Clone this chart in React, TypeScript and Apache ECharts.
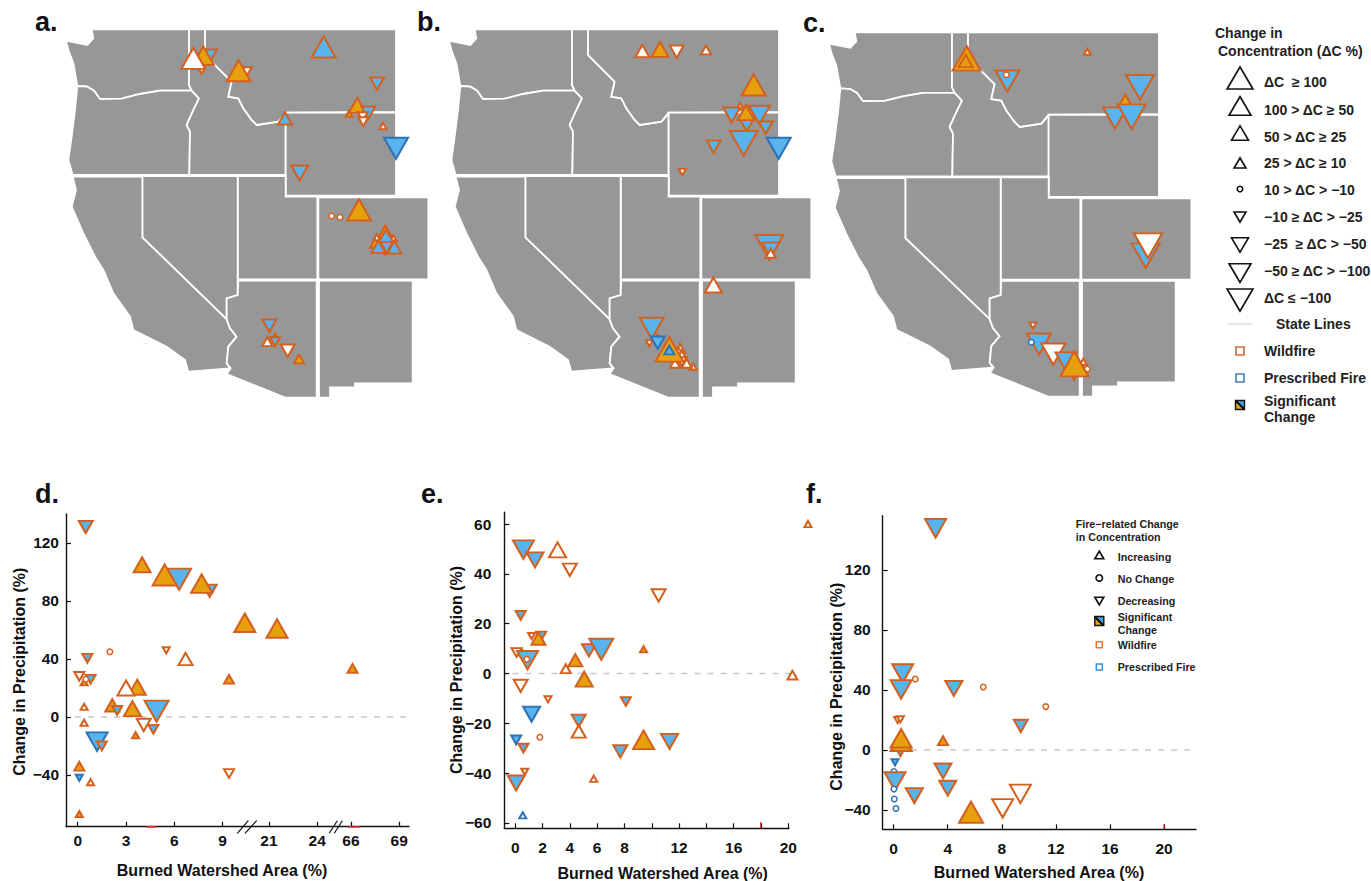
import React, { useEffect, useRef } from "react";
import * as echarts from "echarts";

// ---------- state outlines (map units) ----------
const stateWA = [[275,88],[567,88],[567,255],[575,272],[480,272],[420,282],[365,296],[300,297],[282,272],[262,260],[232,258],[220,190],[205,150],[198,122],[262,135],[280,115]];
const stateOR = [[232,258],[262,260],[282,272],[300,297],[365,296],[420,282],[480,272],[575,272],[597,295],[578,335],[560,375],[570,395],[568,525],[218,525],[205,480],[215,410],[225,330]];
const stateID = [[567,88],[615,88],[615,165],[640,190],[685,235],[695,245],[685,290],[715,295],[730,325],[755,360],[770,375],[835,365],[857,340],[857,525],[568,525],[570,395],[560,375],[578,335],[597,295],[575,272],[567,255]];
const stateMT = [[615,88],[1188,88],[1188,336],[857,338],[835,365],[770,375],[755,360],[730,325],[715,295],[685,290],[695,245],[685,235],[640,190],[615,165]];
const stateWY = [[857,338],[1188,338],[1188,587],[857,587]];
const stateCO = [[955,592],[1285,592],[1285,838],[955,838]];
const stateUT = [[713,528],[857,528],[857,590],[952,590],[952,838],[713,838]];
const stateNV = [[427,528],[713,528],[713,885],[680,895],[680,958],[427,712]];
const stateCA = [[218,530],[427,530],[427,712],[680,958],[690,985],[710,1010],[685,1040],[680,1090],[690,1105],[565,1115],[555,1080],[500,1040],[400,990],[390,950],[340,880],[310,810],[285,770],[250,700],[215,620],[228,570]];
const stateAZ = [[715,842],[950,842],[950,1193],[855,1193],[680,1122],[692,1105],[680,1090],[685,1040],[710,1010],[690,985],[680,958],[680,895],[713,885]];
const stateNM = [[957,842],[1238,842],[1238,1150],[1065,1150],[1065,1162],[990,1162],[990,1193],[957,1193]];
const islands = [[[403,1022],[425,1028],[455,1025],[440,1033],[410,1030]],[[446,1073],[452,1073],[452,1078]],[[495,1062],[506,1068],[503,1073]],[[495,1090],[503,1100],[498,1103]]];
const stateList = [stateWA, stateOR, stateID, stateMT, stateWY, stateCO, stateUT, stateNV, stateCA, stateAZ, stateNM, ...islands];

// ---------- marks: x, y, direction, size class, fill (w/o/b), fire (W/P) ----------
type Row = [number, number, string, number, string, string?];

const mapA: Row[] = [
  [971,141,"u",6,"b"],[1131,251,"d",3,"b"],[1072,316,"u",4,"o"],[1047,341,"u",1,"o"],[1105,338,"d",3,"b"],[1088,350,"d",2,"w"],[1090,365,"d",2,"w"],[1149,378,"u",1,"w"],
  [855,355,"u",3,"b"],[1188,445,"d",6,"b","P"],[899,519,"d",4,"b"],
  [605,212,"d",1,"w"],[630,167,"d",3,"b"],[610,167,"u",5,"o"],[580,175,"u",6,"w"],
  [740,215,"d",2,"w"],[716,212,"u",6,"o"],
  [995,648,"c",1,"w"],[1020,652,"c",1,"w"],[1077,630,"u",6,"o"],
  [1156,695,"u",3,"o"],[1130,712,"u",1,"w"],[1180,715,"u",1,"w"],[1125,730,"u",2,"o"],[1155,755,"d",1,"o"],[1135,740,"u",3,"b"],[1183,742,"u",3,"b"],[1160,740,"d",3,"b"],[1158,708,"u",3,"b"],
  [808,977,"d",3,"b"],[802,1025,"u",2,"w"],[825,1010,"u",1,"o"],[825,1025,"d",2,"b"],[863,1052,"d",3,"w"],[897,1077,"u",2,"o"],
];
const mapB: Row[] = [
  [637,153,"u",3,"w"],[690,148,"u",4,"o"],[740,155,"d",3,"w"],[828,150,"u",2,"w"],[971,255,"u",6,"o"],
  [930,318,"u",1,"w"],[905,345,"d",4,"b"],[988,345,"d",5,"b"],[950,375,"d",3,"b"],[1007,383,"d",3,"b"],[948,338,"u",4,"o"],[941,430,"d",7,"b"],[1046,445,"d",6,"b","P"],[851,440,"d",3,"b"],[757,516,"d",1,"w"],
  [1018,742,"d",7,"b"],[1022,750,"d",4,"b"],[1022,760,"u",2,"w"],[850,855,"u",4,"w"],
  [665,985,"d",6,"b"],[658,1030,"d",1,"w"],[683,1012,"u",1,"w"],[683,1028,"d",3,"b","P"],
  [750,1045,"u",2,"w"],[745,1055,"u",2,"w"],[755,1065,"u",2,"w"],[790,1100,"u",1,"w"],[735,1090,"u",2,"w"],[755,1085,"d",2,"w"],[770,1090,"u",2,"w"],
  [718,1048,"u",7,"o"],[718,1050,"u",2,"b","P"],
];
const mapC: Row[] = [
  [500,175,"u",7,"o"],[497,183,"u",3,"o"],[622,243,"d",6,"b"],[619,224,"c",1,"w"],[862,155,"u",1,"w"],
  [1020,262,"d",7,"b"],[976,302,"u",3,"o"],[945,354,"d",6,"b"],[995,350,"d",7,"b"],
  [1037,767,"d",7,"b"],[1044,737,"d",7,"w"],
  [699,977,"d",1,"w"],[717,1032,"d",6,"b"],[694,1027,"c",1,"w","P"],[760,1062,"d",6,"w"],[798,1085,"d",5,"b"],[862,1107,"c",1,"w"],[850,1085,"u",1,"w"],[822,1130,"d",1,"o"],[823,1092,"u",7,"o"],
];
const scatterD: Row[] = [
  [0.5,131,"d",3,"b"],[4,105,"u",4,"o"],[6.3,95,"d",6,"b"],[5.4,98,"u",6,"o"],[8.2,87,"d",3,"b"],[7.7,92,"u",5,"o"],[19.5,65,"u",5,"o"],[21.5,61,"u",5,"o"],
  [2,45,"c",1,"w"],[5.5,46,"d",1,"w"],[0.6,40.5,"d",2,"b"],[6.7,40,"u",3,"w"],[66.1,33.5,"u",2,"o"],[0.1,28,"d",2,"w"],[0.8,26,"d",2,"b"],[0.4,24,"u",1,"o"],[0.5,26,"c",1,"w"],[9.4,26,"u",2,"o"],
  [3.7,20.5,"u",4,"o"],[3,20,"u",4,"w"],[2.15,8,"u",3,"o"],[2.45,4.5,"d",2,"b"],[3.4,5.7,"u",4,"o"],[4.1,-5.5,"d",3,"w"],[4.7,-8.5,"d",2,"b"],[4.9,4,"d",6,"b"],
  [0.4,7,"u",1,"w"],[0.4,-4,"u",1,"w"],[3.6,-12.6,"u",1,"o"],[1.2,-17,"d",5,"b","P"],[1.5,-20,"d",2,"b"],[9.4,-39,"d",2,"w"],[0.1,-34,"u",2,"o"],[0.1,-42,"d",1,"b","P"],[0.8,-45,"u",1,"w"],[0.1,-67,"u",1,"o"],
];
const scatterE: Row[] = [
  [0.6,49.7,"d",5,"b"],[1.45,45.6,"d",4,"b"],[3.1,49.6,"u",4,"w"],[4,41.6,"d",3,"w"],[10.5,31.3,"d",3,"w"],[0.4,23.3,"d",2,"b"],[1.2,15,"d",1,"w"],[1.9,15,"d",2,"b"],[1.7,14,"u",3,"o"],
  [0.1,8.4,"d",2,"w"],[0.5,8.4,"u",1,"o"],[0.9,5.3,"d",5,"b"],[0.85,5.7,"c",1,"w"],[5.4,9.3,"d",3,"b"],[6.3,9.7,"d",6,"b"],[9.4,9.7,"u",1,"o"],[3.7,1.9,"u",2,"w"],[4.4,5.3,"u",3,"o"],[5.05,-2.3,"u",4,"o"],
  [0.4,-5,"d",3,"w"],[20.3,-0.7,"u",2,"w"],[21.44,60,"u",1,"w"],[2.4,-10.4,"d",1,"w"],[8.1,-11.3,"d",2,"b"],[1.2,-16.4,"d",4,"b","P"],[4.65,-19,"d",3,"b"],[4.65,-23.3,"u",3,"w"],[1.8,-25.6,"c",1,"w"],
  [0.07,-26.7,"d",2,"b","P"],[0.6,-30,"d",2,"b"],[9.4,-26.7,"u",5,"o"],[11.3,-27.3,"d",4,"b"],[7.7,-31.3,"d",3,"b"],[0.7,-39.5,"d",1,"w"],[0.07,-44,"d",4,"b"],[5.75,-42.3,"u",1,"w"],[0.55,-57,"u",1,"w","P"],
];
const scatterF: Row[] = [
  [3.1,147.8,"d",5,"b"],[0.67,51,"d",5,"b"],[1.6,47.3,"c",1,"w"],[0.55,40.4,"d",5,"b"],[4.45,41,"d",4,"b"],[6.63,42,"c",1,"w"],[11.25,28.9,"c",1,"w"],[9.4,16,"d",3,"b"],
  [0.3,20,"d",1,"w"],[0.5,20.4,"d",1,"w"],[0.5,0,"d",3,"b"],[0.55,5.5,"u",5,"o"],[0.55,7.8,"u",5,"o"],[3.65,6.2,"u",2,"o"],[0.1,-8.2,"d",1,"b","P"],[0.02,-14.4,"c",1,"w","P"],
  [3.65,-14,"d",4,"b"],[0.1,-21,"d",5,"b"],[0.02,-26,"c",1,"w","P"],[0.05,-32.7,"c",1,"w","P"],[0.17,-39,"c",1,"w","P"],[1.53,-30.4,"d",4,"b"],[4,-25.5,"d",4,"b"],[5.72,-41.5,"u",6,"o"],[8.06,-38.9,"d",5,"w"],[9.37,-29.3,"d",5,"w"],
];

// ---------- tick labels ----------
const ticksDY = [-40, 0, 40, 80, 120];
const ticksEY = [-60, -40, -20, 0, 20, 40, 60];
const ticksFY = [-40, 0, 40, 80, 120];
const ticksDX = [0, 3, 6, 9, 21, 24, 66, 69];
const ticksEXMinor = [0, 2, 4, 6, 8, 10, 12, 14, 16, 18, 20];
const ticksEX = [0, 2, 4, 6, 8, 12, 16, 20];
const ticksFX = [0, 4, 8, 12, 16, 20];
const legendClasses = ["ΔC  ≥ 100", "100 > ΔC ≥ 50", "50 > ΔC ≥ 25", "25 > ΔC ≥ 10", "10 > ΔC > −10", "−10 ≥ ΔC > −25", "−25  ≥ ΔC > −50", "−50 ≥ ΔC > −100", "ΔC ≤ −100"];
const inset = ["Increasing", "No Change", "Decreasing", "Wildfire", "Prescribed Fire"];

// ---------- styles ----------
const FILL: Record<string, string> = { w: "#ffffff", o: "#e6a00e", b: "#57b4ec" };
const WILD = "#d4601f";
const PRES = "#2f72b5";
const SIZES = [0, 7, 10, 14, 17, 21, 24, 28];
const FONT = '"Liberation Sans", Arial, sans-serif';

// broken x axis of panel d
function brokenX(x: number) {
  if (x <= 9.5) return x;
  if (x <= 40) return x - 21 + 11.88;
  return x - 66 + 16.97;
}
function brokenLabel(u: number) {
  const i = ticksDX.findIndex((t) => Math.abs(brokenX(t) - u) < 0.01);
  return i >= 0 ? String(ticksDX[i]) : "";
}

function mark(r: Row, conv: (x: number) => number = (x) => x) {
  const [x, y, dir, cls, fill, fire] = r;
  const w = SIZES[cls];
  return {
    value: [conv(x), y],
    symbol: dir === "c" ? "circle" : "triangle",
    symbolSize: dir === "c" ? 5.5 : [w, w * 0.88],
    symbolRotate: dir === "d" ? 180 : 0,
    itemStyle: { opacity: 1, color: FILL[fill], borderColor: fire === "P" ? PRES : WILD, borderWidth: dir === "c" ? 1.5 : 2 },
  };
}
function markSeries(rows: Row[], axis: number, conv?: (x: number) => number) {
  return {
    type: "scatter", xAxisIndex: axis, yAxisIndex: axis, clip: false, z: 5, silent: true,
    data: rows.map((r) => mark(r, conv)),
  };
}
function mapSeries(axis: number) {
  return {
    type: "custom", xAxisIndex: axis, yAxisIndex: axis, clip: false, z: 1, silent: true,
    data: stateList.map((_, i) => [i]),
    renderItem: (params: any, api: any) => ({
      type: "polygon",
      shape: { points: stateList[params.dataIndex].map((p) => api.coord(p)) },
      style: { fill: "#979797", stroke: "#ffffff", lineWidth: 1.8 },
    }),
  };
}
function zeroLine(axis: number, x0: number, x1: number) {
  return {
    type: "line", xAxisIndex: axis, yAxisIndex: axis, symbol: "none", clip: false, z: 2, silent: true,
    data: [[x0, 0], [x1, 0]],
    lineStyle: { color: "#c8c8c8", width: 1.5, type: [6, 7] },
  };
}
const hiddenAxis = (max: number, inverse = false) => ({ type: "value", show: false, min: 0, max, inverse, splitLine: { show: false } });
const minusFmt = (v: number) => String(v).replace("-", "−");
const line = { lineStyle: { color: "#111", width: 1.4 }, onZero: false };
function valueX(gridIndex: number, min: number, max: number, ticks: number[], labels: number[], margin: number, fmt: any) {
  return {
    type: "value", gridIndex, min, max, axisLine: { show: true, ...line }, splitLine: { show: false },
    axisTick: { show: true, inside: true, length: 5, lineStyle: { color: "#111", width: 1.2 }, customValues: ticks },
    axisLabel: { show: true, margin, customValues: labels, formatter: fmt, color: "#111", fontFamily: FONT, fontWeight: "bold", fontSize: 15.5, hideOverlap: false, showMinLabel: true, showMaxLabel: true },
  };
}
function valueY(gridIndex: number, min: number, max: number, ticks: number[], margin: number) {
  return {
    type: "value", gridIndex, min, max, axisLine: { show: true, ...line }, splitLine: { show: false },
    axisTick: { show: true, inside: true, length: 5, lineStyle: { color: "#111", width: 1.2 }, customValues: ticks },
    axisLabel: { show: true, margin, customValues: ticks, formatter: minusFmt, color: "#111", fontFamily: FONT, fontWeight: "bold", fontSize: 15.5, hideOverlap: false },
  };
}
const txt = (text: string, x: number, y: number, size: number, opts: any = {}) => ({
  type: "text", x, y, rotation: opts.rotation || 0, z: 20, silent: true,
  style: { text, font: `${opts.weight || "bold"} ${size}px ${FONT}`, fill: opts.fill || "#222", textAlign: opts.align || "left", textVerticalAlign: "middle", verticalAlign: "middle" },
});
const seg = (x1: number, y1: number, x2: number, y2: number, stroke = "#111", lineWidth = 1.2) => ({
  type: "line", z: 20, silent: true, shape: { x1, y1, x2, y2 }, style: { stroke, lineWidth },
});

function buildOption() {
  const split = new echarts.graphic.LinearGradient(0, 1, 1, 0, [
    { offset: 0, color: "#e6a00e" }, { offset: 0.42, color: "#e6a00e" },
    { offset: 0.42, color: "#111" }, { offset: 0.58, color: "#111" },
    { offset: 0.58, color: "#3da5ea" }, { offset: 1, color: "#3da5ea" },
  ]);
  const sym = (x: number, y: number, w: number, dir: string, border = "#111", bw = 1.6, color: any = "#fff") => ({
    value: [x, y],
    symbol: dir === "c" ? "circle" : dir === "s" ? "rect" : "triangle",
    symbolSize: dir === "u" || dir === "d" ? [w, w * 0.85] : w,
    symbolRotate: dir === "d" ? 180 : 0,
    itemStyle: { opacity: 1, color, borderColor: border, borderWidth: bw },
  });
  const legendSyms = [
    sym(1240, 78, 26, "u"), sym(1240, 106, 22, "u"), sym(1240, 133, 17, "u"), sym(1240, 163, 12, "u"), sym(1240, 189, 5.5, "c"),
    sym(1240, 217, 12, "d"), sym(1240, 245, 17, "d"), sym(1240, 273, 22, "d"), sym(1240, 300, 26, "d"),
    sym(1240, 351, 8, "s", "#cf6a30", 1.6), sym(1240, 378, 8, "s", "#3f7fbd", 1.6), sym(1240, 405, 9, "s", "#111", 1.4, split),
    sym(1099.3, 555, 9, "u"), sym(1099.3, 578, 6.5, "c"), sym(1099.3, 601, 9, "d"),
    sym(1099.3, 621, 9, "s", "#111", 1.4, split), sym(1099.3, 644.7, 6, "s", "#e07a35", 1.5), sym(1099.3, 667, 6, "s", "#3f8fd0", 1.5),
  ];
  const rowsY = [82.3, 110, 136.7, 163.3, 190, 217.3, 244.3, 271, 297.7];
  const graphics: any[] = [
    txt("a.", 35, 22, 27, { fill: "#111" }), txt("b.", 417, 22, 27, { fill: "#111" }), txt("c.", 803, 23, 27, { fill: "#111" }),
    txt("d.", 35, 494, 27, { fill: "#111" }), txt("e.", 421, 494, 27, { fill: "#111" }), txt("f.", 806, 494, 27, { fill: "#111" }),
    txt("Change in", 1215, 32.7, 14), txt("Concentration (ΔC %)", 1218, 50.7, 14),
    ...legendClasses.map((t, i) => txt(t, 1264, rowsY[i], 14)),
    txt("State Lines", 1276, 324.3, 14), seg(1228, 324, 1252, 324, "#dcdcdc", 1.5),
    txt("Wildfire", 1264, 351, 14), txt("Prescribed Fire", 1264, 378.3, 14), txt("Significant", 1264, 400.7, 14), txt("Change", 1264, 417.3, 14),
    txt("Fire−related Change", 1075.7, 524, 10.7), txt("in Concentration", 1075.7, 537.3, 10.7),
    txt(inset[0], 1117.7, 556.7, 10.7), txt(inset[1], 1117.7, 578.7, 10.7), txt(inset[2], 1117.7, 600.7, 10.7),
    txt("Significant", 1117.7, 616.7, 10.7), txt("Change", 1117.7, 629.7, 10.7),
    txt(inset[3], 1117.7, 645.3, 10.7), txt(inset[4], 1117.7, 667.3, 10.7),
    txt("Burned Watershed Area (%)", 222, 870.7, 16, { align: "center", fill: "#111" }),
    txt("Burned Watershed Area (%)", 662.7, 873, 16, { align: "center", fill: "#111" }),
    txt("Burned Watershed Area (%)", 1039, 872, 16, { align: "center", fill: "#111" }),
    txt("Change in Precipitation (%)", 19.3, 671.7, 16, { align: "center", fill: "#111", rotation: Math.PI / 2 }),
    txt("Change in Precipitation (%)", 456.7, 670, 16, { align: "center", fill: "#111", rotation: Math.PI / 2 }),
    txt("Change in Precipitation (%)", 836.7, 686.7, 16, { align: "center", fill: "#111", rotation: Math.PI / 2 }),
    seg(237.3, 833.3, 248.3, 820.7), seg(245, 833.3, 256.7, 820.7), seg(329.3, 833.3, 337.3, 820.7), seg(334.3, 833.3, 342.3, 820.7),
    seg(146, 827, 157, 827, "#f03030", 1.5), seg(348, 827, 360, 827, "#f03030", 1.5),
    seg(760.7, 822, 760.7, 828, "#e03030", 1.2), seg(1164, 824, 1164, 829, "#e03030", 1.2),
  ];
  return {
    animation: false,
    backgroundColor: "#ffffff",
    grid: [
      { left: 0, top: 0, width: 440, height: 420 },
      { left: 383, top: 0, width: 440, height: 420 },
      { left: 430, top: 0, width: 440, height: 420 },
      { left: 763, top: 3.3, width: 440, height: 415.4 },
      { left: 800, top: 0, width: 440, height: 420 },
      { left: 66, top: 514, width: 343, height: 312.7 },
      { left: 504.3, top: 512.3, width: 284.7, height: 316 },
      { left: 882.7, top: 515.7, width: 313.3, height: 313.6 },
      { left: 0, top: 0, width: 1371, height: 881 },
    ],
    xAxis: [
      { gridIndex: 0, ...hiddenAxis(1320) }, { gridIndex: 1, ...hiddenAxis(1320) }, { gridIndex: 2, ...hiddenAxis(1320) },
      { gridIndex: 3, ...hiddenAxis(1320) }, { gridIndex: 4, ...hiddenAxis(1320) },
      valueX(5, -0.727, 20.58, ticksDX.map(brokenX), ticksDX.map(brokenX), 6, brokenLabel),
      valueX(6, -0.8, 20.05, ticksEXMinor, ticksEX, 11, (v: number) => String(v)),
      valueX(7, -0.81, 22.36, ticksFX, ticksFX, 11, (v: number) => String(v)),
      { gridIndex: 8, ...hiddenAxis(1371) },
    ],
    yAxis: [
      { gridIndex: 0, ...hiddenAxis(1260, true) }, { gridIndex: 1, ...hiddenAxis(1260, true) }, { gridIndex: 2, ...hiddenAxis(1260, true) },
      { gridIndex: 3, ...hiddenAxis(1260, true) }, { gridIndex: 4, ...hiddenAxis(1260, true) },
      valueY(5, -75.7, 140, ticksDY, 7),
      valueY(6, -62.2, 64.7, ticksEY, 13),
      valueY(7, -52.9, 156.2, ticksFY, 12),
      { gridIndex: 8, ...hiddenAxis(881, true) },
    ],
    graphic: graphics,
    series: [
      mapSeries(0), mapSeries(1), mapSeries(3),
      markSeries(mapA, 0), markSeries(mapB, 2), markSeries(mapC, 4),
      zeroLine(5, -0.17, 20.58), zeroLine(6, -0.2, 21.8), zeroLine(7, 1.3, 22.36),
      markSeries(scatterD, 5, brokenX), markSeries(scatterE, 6), markSeries(scatterF, 7),
      { type: "scatter", xAxisIndex: 8, yAxisIndex: 8, silent: true, clip: false, z: 6, data: legendSyms },
    ],
  };
}

export default function App() {
  const ref = useRef<HTMLDivElement>(null);
  useEffect(() => {
    document.body.style.margin = "0";
    const chart = echarts.init(ref.current!, undefined, { renderer: "svg" });
    chart.setOption(buildOption() as any);
    return () => chart.dispose();
  }, []);
  return <div ref={ref} style={{ width: 1371, height: 881 }} />;
}
